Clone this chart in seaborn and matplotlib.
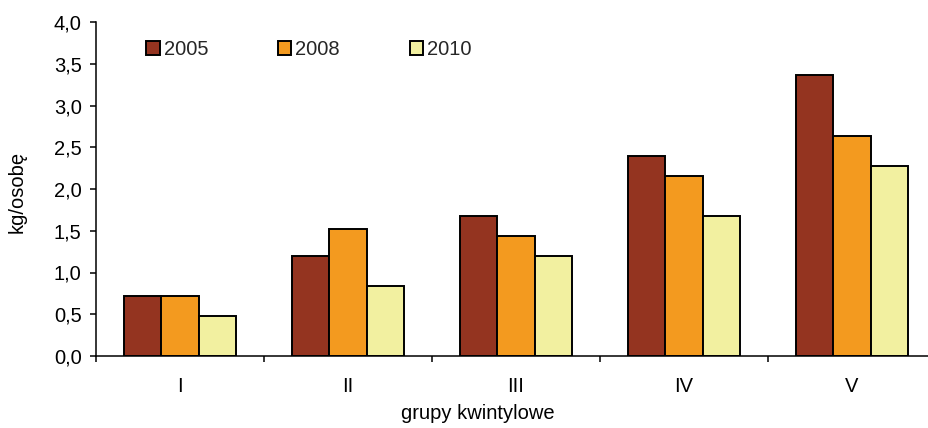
import matplotlib
matplotlib.use("Agg")
import matplotlib.pyplot as plt
from matplotlib.ticker import FuncFormatter, MultipleLocator, FixedLocator
import pandas as pd
import seaborn as sns

# Quintile groups and per-capita consumption (kg/person) by survey year
groups = ["I", "II", "III", "IV", "V"]
years = ["2005", "2008", "2010"]
values_2005 = [0.72, 1.20, 1.68, 2.40, 3.36]
values_2008 = [0.72, 1.52, 1.44, 2.16, 2.64]
values_2010 = [0.48, 0.84, 1.20, 1.68, 2.28]
year_colors = ["#943420", "#F39A1F", "#F2F0A0"]

df = pd.DataFrame({
    "grupa": groups * 3,
    "rok": [y for y in years for _ in groups],
    "kg": values_2005 + values_2008 + values_2010,
})

sns.set_theme(style="white")
plt.rcParams["font.family"] = ["Liberation Sans", "DejaVu Sans"]
FS = 14.5

W, H = 929, 428
fig = plt.figure(figsize=(W / 100, H / 100), dpi=100)
left, right, top, bottom = 96, 936, 22, 356
ax = fig.add_axes([left / W, 1 - bottom / H, (right - left) / W, (bottom - top) / H])

sns.barplot(
    data=df, x="grupa", y="kg", hue="rok", order=groups, hue_order=years,
    palette=dict(zip(years, year_colors)), width=2 / 3, gap=0,
    edgecolor="black", linewidth=1.4, saturation=1, ax=ax,
)

ax.set_xlim(-0.5, 4.5)
ax.set_ylim(0, 4.0)
ax.yaxis.set_major_locator(MultipleLocator(0.5))
ax.yaxis.set_major_formatter(FuncFormatter(lambda v, _: f"{v:.1f}".replace(".", ",")))

for side in ("top", "right"):
    ax.spines[side].set_visible(False)
for side in ("left", "bottom"):
    ax.spines[side].set_linewidth(1.1)
    ax.spines[side].set_color("black")

# Category labels sit at group centres; tick marks sit between groups
ax.xaxis.set_minor_locator(FixedLocator([i - 0.5 for i in range(len(groups) + 1)]))
ax.tick_params(axis="x", which="major", length=0, pad=15, labelsize=FS, colors="black")
ax.tick_params(axis="x", which="minor", direction="out", length=4, width=1.1,
               color="black", bottom=True)
ax.tick_params(axis="y", which="major", direction="out", length=4.3, width=1.1,
               pad=6, labelsize=FS, colors="black", left=True)

ax.set_ylabel("kg/osobę", fontsize=FS, color="black")
ax.yaxis.set_label_coords(-0.083, 0.49)
ax.set_xlabel("grupy kwintylowe", fontsize=FS, color="black")
ax.xaxis.set_label_coords(0.455, -0.145)

sns.move_legend(
    ax, "upper left", bbox_to_anchor=(146 / W, 1 - 40 / H),
    bbox_transform=fig.transFigure, ncol=3, frameon=False, title=None,
    fontsize=FS, handlelength=0.68, handleheight=0.68, handletextpad=0.2,
    columnspacing=3.45, borderpad=0, borderaxespad=0,
)

fig.savefig("out.png", dpi=100)
